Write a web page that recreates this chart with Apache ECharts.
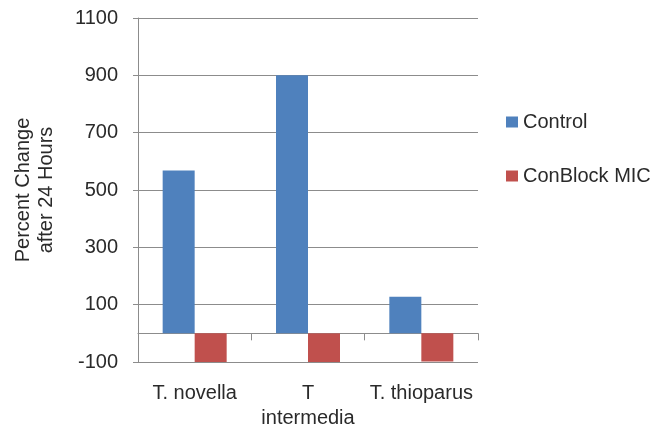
<!DOCTYPE html>
<html><head><meta charset="utf-8">
<script src="https://cdn.jsdelivr.net/npm/echarts@6/dist/echarts.min.js"></script>
<style>html,body{margin:0;padding:0;background:#fff}#c{width:672px;height:428px}</style>
</head><body><div id="c"></div>
<script>
const categories = ["T. novella", "T intermedia", "T. thioparus"];
const categoryLabels = ["T. novella", "T\nintermedia", "T. thioparus"];
const controlValues = [568, 900, 128];
const conBlockValues = [-100, -100, -98];
const seriesNames = ["Control", "ConBlock MIC"];

const font = "Liberation Sans";
const txt = "#2a2a2a";
const gridCol = "#8c8c8c";
const chart = echarts.init(document.getElementById('c'));
chart.setOption({
  animation: false,
  textStyle: {fontFamily: font},
  grid: {left: 138, right: 194, top: 18, bottom: 66, containLabel: false, outerBoundsMode: 'none'},
  legend: {
    orient: 'vertical', left: 506, top: 112, itemGap: 34, padding: 0,
    itemWidth: 12, itemHeight: 11, icon: 'rect',
    textStyle: {fontSize: 20, color: txt, fontFamily: font},
    data: seriesNames
  },
  xAxis: [{
    type: 'category', data: categories,
    axisLine: {onZero: true, lineStyle: {color: gridCol, width: 1}},
    axisTick: {show: true, length: 7, lineStyle: {color: gridCol}},
    axisLabel: {show: false}
  }, {
    type: 'category', data: categories, position: 'bottom',
    axisLine: {show: false, onZero: false}, axisTick: {show: false},
    axisLabel: {interval: 0, hideOverlap: false, margin: 19, fontSize: 20, color: txt, lineHeight: 25,
      formatter: (v, i) => categoryLabels[i]}
  }],
  yAxis: {
    type: 'value', min: -100, max: 1100, interval: 200,
    name: 'Percent Change\nafter 24 Hours', nameLocation: 'middle', nameGap: 80,
    nameTextStyle: {fontSize: 20, color: txt, lineHeight: 23, fontFamily: font},
    axisLine: {show: true, lineStyle: {color: gridCol}},
    axisTick: {show: true, length: 5, lineStyle: {color: gridCol}},
    axisLabel: {margin: 20, fontSize: 20, color: txt, formatter: v => String(v)},
    splitLine: {lineStyle: {color: gridCol, width: 1}}
  },
  series: [{
    name: seriesNames[0], type: 'bar', data: controlValues,
    itemStyle: {color: '#4F81BD'}, barWidth: 32, barGap: '0%'
  }, {
    name: seriesNames[1], type: 'bar', data: conBlockValues,
    itemStyle: {color: '#C0504D'}, barWidth: 32, barGap: '0%'
  }]
});
</script></body></html>
